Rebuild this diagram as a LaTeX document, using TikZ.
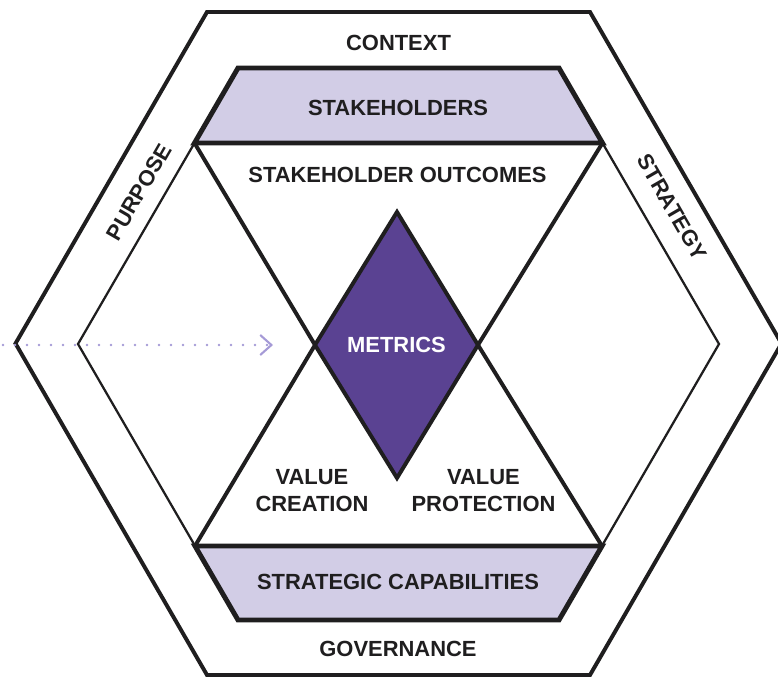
\documentclass[tikz,border=0pt]{standalone}
\usepackage{fontspec}
\setmainfont{Liberation Sans}
\usetikzlibrary{arrows.meta}

\definecolor{inkblack}{HTML}{1F1E1F}
\definecolor{lavender}{HTML}{D2CDE6}
\definecolor{metricpurple}{HTML}{5A4292}
\definecolor{lilac}{HTML}{A59AD6}

\begin{document}
\begin{tikzpicture}[x=0.025cm, y=-0.025cm, line join=miter,
        lbl/.style={font=\bfseries\fontsize{15.6}{19.1}\selectfont, text=inkblack, align=center, inner sep=0pt},
        outerhex/.style={draw=inkblack, line width=2.8pt},
        innerhex/.style={draw=inkblack, line width=1.6pt},
        band/.style={draw=inkblack, fill=lavender, line width=3.5pt},
        cross/.style={draw=inkblack, line width=2.8pt},
        gem/.style={draw=inkblack, fill=metricpurple, line width=2.8pt}]
        \useasboundingbox (0,0) rectangle (778,677);

        % Outer hexagon
        \draw[outerhex] (207,12) -- (590,12) -- (781.5,343.5) -- (590,675)
            -- (207,675) -- (15.5,343.5) -- cycle;

        % Inner hexagon (thin)
        \draw[innerhex] (238,68) -- (559,68) -- (719,344) -- (559,620)
            -- (238,620) -- (78,344) -- cycle;

        % Corners of the two bands
        \coordinate (topleft) at (194.5,143);
        \coordinate (topright) at (602.5,143);
        \coordinate (botleft) at (195,546);
        \coordinate (botright) at (602,546);

        % Stakeholders band
        \draw[band] (238,68) -- (559,68) -- (topright) -- (topleft) -- cycle;

        % Strategic capabilities band
        \draw[band] (botleft) -- (botright) -- (559,620) -- (238,620) -- cycle;

        % Crossing lines left and right of the diamond
        \coordinate (xleft) at (315,345);
        \coordinate (xright) at (478,345);
        \draw[cross] (topleft) -- (xleft) -- (botleft);
        \draw[cross] (topright) -- (xright) -- (botright);

        % Metrics diamond
        \draw[gem] (397,212) -- (xright) -- (397,478) -- (xleft) -- cycle;

        % Dotted arrow from the left edge
        \coordinate (arrowstart) at (3,345);
        \coordinate (arrowend) at (273,345);
        \draw[lilac, line width=2pt, line cap=round, dash pattern=on 0pt off 0.3cm,
            -{Straight Barb[length=0.28cm, width=0.5cm, line width=1.5pt]}] (arrowstart) -- (arrowend);

        % Labels
        \node[lbl] (context) at (398.5,42.5) {CONTEXT};
        \node[lbl] (stakeholders) at (398,108) {STAKEHOLDERS};
        \node[lbl] (outcomes) at (397.5,174.5) {STAKEHOLDER OUTCOMES};
        \node[lbl, text=white] (metrics) at (396.5,344.5) {METRICS};
        \node[lbl] (creation) at (312,490.5) {VALUE\\CREATION};
        \node[lbl] (protection) at (483.5,490.5) {VALUE\\PROTECTION};
        \node[lbl] (capabilities) at (398,582) {STRATEGIC CAPABILITIES};
        \node[lbl] (governance) at (398,648.5) {GOVERNANCE};
        \node[lbl, rotate=60] (purpose) at (139,192) {PURPOSE};
        \node[lbl, rotate=-60] (strategy) at (672,207) {STRATEGY};

\end{tikzpicture}
\end{document}
